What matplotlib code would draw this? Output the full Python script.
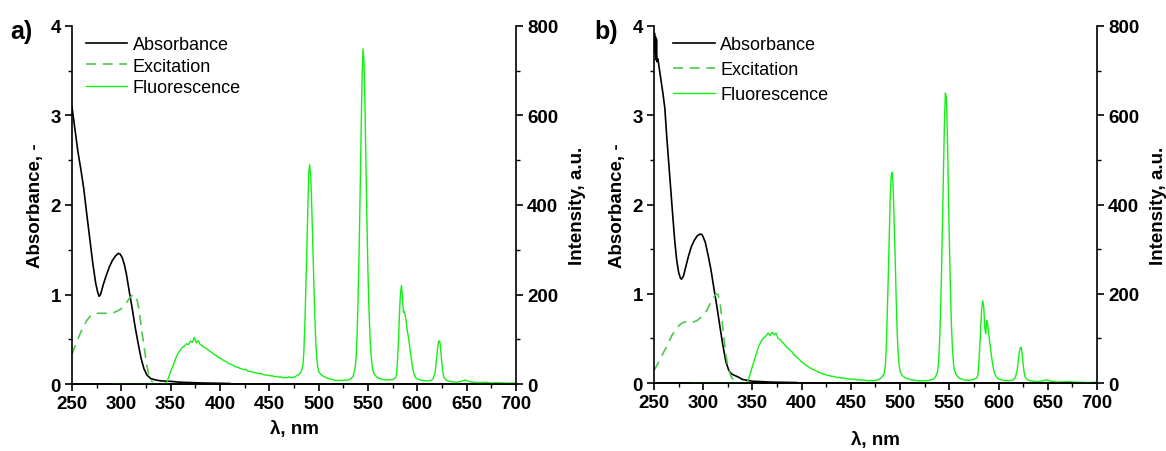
import numpy as np
import matplotlib
matplotlib.use('Agg')
import matplotlib.pyplot as plt
from matplotlib.ticker import MultipleLocator

plt.rcParams['font.family'] = ['Liberation Sans', 'DejaVu Sans']

# ---------- panel a ----------
abs_wl_a = [250, 253, 256, 259, 262, 265, 268, 271, 274, 276, 277.5, 279, 282, 285, 288, 291, 294,
            297, 299, 301, 303, 305, 308, 311, 314, 317, 320, 323, 326, 330, 335, 340, 350, 360,
            380, 400, 410]
abs_a = [3.10, 2.85, 2.60, 2.40, 2.18, 1.90, 1.63, 1.36, 1.13, 1.03, 0.98, 1.00, 1.12, 1.22, 1.31,
         1.38, 1.43, 1.46, 1.45, 1.41, 1.34, 1.24, 1.04, 0.85, 0.64, 0.46, 0.29, 0.17, 0.10, 0.06,
         0.045, 0.035, 0.03, 0.02, 0.012, 0.008, 0.006]

exc_wl_a = [250, 253, 256, 259, 262, 265, 268, 271, 275, 280, 285, 290, 295, 300, 303, 306, 309,
            312, 314, 316, 318, 320, 322, 324, 326, 328, 330, 332]
exc_a = [0.33, 0.42, 0.50, 0.58, 0.65, 0.71, 0.75, 0.78, 0.79, 0.79, 0.79, 0.79, 0.81, 0.84, 0.88,
         0.92, 0.97, 1.00, 0.99, 0.94, 0.83, 0.66, 0.50, 0.35, 0.20, 0.10, 0.04, 0.02]

fl_wl_a = [290, 300, 310, 320, 330, 340, 344, 346, 348, 350, 352, 354, 356, 358, 360, 362, 364,
           366, 368, 370, 372, 374, 376, 378, 380, 382, 384, 386, 388, 390, 392, 394, 396, 398,
           400, 402, 404, 406, 408, 410, 412, 414, 416, 418, 420, 422, 424, 426, 428, 430, 432,
           434, 436, 438, 440, 442, 444, 446, 448, 450, 452, 454, 456, 458, 460, 462, 464, 466,
           468, 470, 472, 474, 476, 478, 480, 482, 484, 485, 486, 487, 488, 489, 490, 491, 492,
           493, 494, 495, 496, 497, 498, 499, 500, 502, 505, 510, 515, 520, 525, 530, 533, 535,
           537, 538, 539, 540, 541, 542, 543, 544, 545, 546, 547, 548, 549, 550, 551, 552, 553,
           554, 555, 557, 560, 565, 570, 575, 578, 579, 580, 581, 582, 583, 584, 585, 586, 587,
           588, 589, 590, 591, 592, 593, 594, 595, 596, 597, 598, 600, 605, 610, 614, 616, 618,
           619, 620, 621, 622, 623, 624, 625, 626, 627, 629, 632, 640, 645, 648, 650, 653, 660,
           670, 675, 680, 690, 700]
fl_a = [0, 1, 0, 1, 0, 0, 1, 4, 15, 28, 38, 50, 62, 70, 76, 82, 85,
        90, 88, 96, 93, 104, 92, 97, 88, 86, 82, 80, 76, 73, 70, 66, 64, 60,
        58, 55, 52, 50, 47, 45, 43, 41, 38, 38, 35, 34, 32, 33, 29, 28, 28,
        26, 25, 24, 23, 23, 21, 20, 20, 19, 18, 18, 16, 17, 15, 16, 14, 15,
        14, 16, 14, 15, 16, 19, 21, 26, 40, 70, 130, 210, 300, 400, 470, 490, 465,
        400, 320, 240, 160, 100, 60, 40, 28, 22, 17, 12, 9, 8, 8, 9, 12, 18,
        35, 60, 110, 190, 290, 420, 560, 680, 749, 720, 620, 490, 360, 250, 170, 110, 70,
        45, 30, 20, 14, 10, 9, 10, 14, 22, 55, 100, 160, 205, 220, 190, 160, 162,
        150, 135, 118, 105, 88, 70, 55, 40, 28, 20, 15, 11, 8, 7, 8, 12, 25,
        45, 68, 88, 97, 92, 70, 45, 25, 15, 9, 6, 4, 6, 9, 8, 5, 3,
        4, 2, 3, 2, 2]

# ---------- panel b ----------
abs_wl_b = [250, 250.5, 251, 251.5, 252, 252.5, 253, 254, 255, 257, 259, 261, 263, 265, 267, 269,
            271, 273, 275, 277, 278, 280, 282, 285, 288, 291, 294, 297, 299, 302, 305, 308, 311,
            314, 317, 320, 323, 326, 329, 332, 335, 340, 350, 370, 395]
abs_b = [3.75, 3.92, 3.70, 3.88, 3.62, 3.85, 3.60, 3.63, 3.55, 3.40, 3.25, 3.08, 2.75, 2.46, 2.17,
         1.88, 1.60, 1.38, 1.24, 1.17, 1.165, 1.20, 1.29, 1.42, 1.53, 1.60, 1.65, 1.67, 1.66, 1.58,
         1.43, 1.26, 1.05, 0.85, 0.63, 0.42, 0.24, 0.14, 0.10, 0.085, 0.07, 0.04, 0.02, 0.01, 0.005]

exc_wl_b = [250, 253, 256, 259, 262, 265, 268, 271, 274, 277, 280, 284, 288, 292, 295, 298, 301,
            304, 307, 310, 313, 315, 317, 319, 321, 323, 325, 327, 329, 331]
exc_b = [0.14, 0.20, 0.26, 0.33, 0.39, 0.46, 0.53, 0.58, 0.63, 0.66, 0.68, 0.69, 0.68, 0.69, 0.71,
         0.74, 0.77, 0.82, 0.89, 0.95, 1.00, 0.99, 0.91, 0.72, 0.50, 0.32, 0.19, 0.11, 0.06, 0.03]

fl_wl_b = [290, 300, 310, 320, 330, 340, 344, 346, 348, 350, 352, 354, 356, 358, 360, 362, 364,
           366, 368, 370, 372, 374, 376, 378, 380, 382, 384, 386, 388, 390, 392, 394, 396, 398,
           400, 402, 404, 406, 408, 410, 412, 414, 416, 418, 420, 422, 424, 426, 428, 430, 432,
           434, 436, 438, 440, 442, 444, 446, 448, 450, 452, 454, 456, 458, 460, 462, 464, 466,
           468, 470, 472, 474, 476, 478, 480, 482, 484, 485, 486, 487, 488, 489, 490, 491, 492,
           493, 494, 495, 496, 497, 498, 499, 500, 502, 505, 510, 515, 520, 525, 530, 534, 536,
           538, 539, 540, 541, 542, 543, 544, 545, 546, 547, 548, 549, 550, 551, 552, 553, 554,
           555, 557, 560, 565, 570, 575, 578, 579, 580, 581, 582, 583, 584, 585, 586, 587, 588,
           589, 590, 591, 592, 593, 594, 595, 596, 598, 600, 605, 610, 615, 617, 619, 620, 621,
           622, 623, 624, 625, 626, 627, 629, 632, 640, 645, 648, 650, 653, 660, 670, 680, 690,
           700]
fl_b = [0, 1, 0, 0, 1, 0, 1, 8, 22, 38, 52, 66, 80, 90, 98, 102, 106,
        112, 106, 114, 108, 112, 100, 98, 92, 88, 82, 78, 74, 70, 64, 60, 56, 52,
        47, 45, 40, 38, 35, 32, 30, 28, 25, 24, 22, 20, 19, 17, 17, 15, 15,
        14, 12, 13, 11, 12, 10, 10, 9, 9, 8, 9, 7, 8, 6, 7, 6, 6,
        5, 6, 5, 6, 6, 8, 10, 14, 22, 40, 80, 160, 240, 335, 420, 465, 472,
        435, 360, 280, 190, 115, 68, 40, 26, 17, 12, 8, 6, 5, 5, 6, 9, 14,
        25, 45, 85, 150, 240, 350, 470, 580, 650, 640, 560, 440, 320, 220, 140, 85, 50,
        30, 18, 11, 7, 6, 8, 12, 18, 45, 84, 130, 170, 184, 170, 125, 110, 140,
        132, 110, 92, 75, 58, 42, 30, 22, 13, 9, 6, 5, 7, 12, 30, 50, 68,
        78, 80, 65, 42, 24, 14, 8, 5, 3, 5, 7, 6, 4, 2, 3, 2, 1,
        2]

tick_fs = 13.5
lab_fs = 13.5
leg_fs = 13

black = '#000000'
exc_col = '#4cc94c'
fl_col = '#14f014'


def panel(rect, abs_wl, abs_v, exc_wl, exc_v, fl_wl, fl_v, xlab_y, legx, legsp):
    ax = fig.add_axes(rect)
    ax2 = ax.twinx()
    l1, = ax.plot(abs_wl, abs_v, color=black, lw=1.2, label='Absorbance')
    l2, = ax.plot(exc_wl, exc_v, color=exc_col, lw=1.2, ls=(0, (6, 4)), label='Excitation')
    l3, = ax2.plot(fl_wl, fl_v, color=fl_col, lw=1.0, label='Fluorescence')
    ax.set_xlim(250, 700)
    ax.set_ylim(0, 4)
    ax2.set_ylim(0, 800)
    ax.xaxis.set_major_locator(MultipleLocator(50))
    ax.xaxis.set_minor_locator(MultipleLocator(25))
    ax.yaxis.set_major_locator(MultipleLocator(1))
    ax.yaxis.set_minor_locator(MultipleLocator(0.5))
    ax2.yaxis.set_major_locator(MultipleLocator(200))
    ax2.yaxis.set_minor_locator(MultipleLocator(100))
    for a in (ax, ax2):
        a.spines['top'].set_visible(False)
        for s in a.spines.values():
            s.set_linewidth(1.2)
        a.tick_params(which='major', length=5, width=1.2, direction='out', labelsize=tick_fs, pad=3)
        a.tick_params(which='minor', length=3, width=1.0, direction='out')
        for t in a.get_xticklabels() + a.get_yticklabels():
            t.set_fontweight('bold')
    ax.spines['right'].set_visible(False)
    ax2.spines['left'].set_visible(False)
    ax.set_xlabel('λ, nm', fontsize=lab_fs, fontweight='bold')
    ax.set_ylabel('Absorbance, -', fontsize=lab_fs, fontweight='bold')
    ax2.set_ylabel('Intensity, a.u.', fontsize=lab_fs, fontweight='bold')
    ax.xaxis.set_label_coords(0.5, xlab_y)
    ax.yaxis.set_label_coords(-0.063, 0.5)
    ax2.yaxis.set_label_coords(1.12, 0.5)
    ax2.legend([l1, l2, l3], ['Absorbance', 'Excitation', 'Fluorescence'],
               loc='upper left', bbox_to_anchor=(legx, 0.972), frameon=False,
               fontsize=leg_fs, borderpad=0, borderaxespad=0, handlelength=2.3,
               handletextpad=0.3, labelspacing=legsp)
    return ax


fig = plt.figure(figsize=(11.66, 4.52), dpi=100)
panel([0.0617, 0.1482, 0.3808, 0.7921], abs_wl_a, abs_a, exc_wl_a, exc_a, fl_wl_a, fl_a,
      -0.101, 0.0315, 0.25)
panel([0.5609, 0.1504, 0.3799, 0.7899], abs_wl_b, abs_b, exc_wl_b, exc_b, fl_wl_b, fl_b,
      -0.135, 0.043, 0.45)
fig.text(0.009, 1 - 32 / 452, 'a)', fontsize=18, fontweight='bold', va='center')
fig.text(0.510, 1 - 32 / 452, 'b)', fontsize=18, fontweight='bold', va='center')

fig.savefig('out.png', dpi=100)
